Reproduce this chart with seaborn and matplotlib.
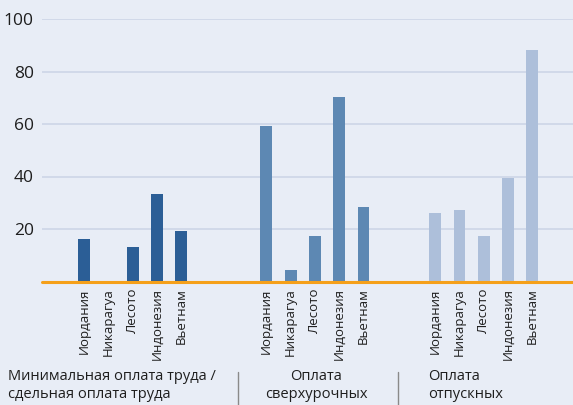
import numpy as np
import pandas as pd
import matplotlib
matplotlib.use("Agg")
import matplotlib.pyplot as plt
import seaborn as sns

countries = ["Иордания", "Никарагуа", "Лесото", "Индонезия", "Вьетнам"]
groups = ["Минимальная оплата труда /\nсдельная оплата труда",
          "Оплата\nсверхурочных",
          "Оплата\nотпускных"]
min_wage = [16.2, 0.0, 13.1, 33.3, 19.2]
overtime = [59.2, 4.4, 17.3, 70.3, 28.4]
leave = [26.1, 27.2, 17.3, 39.4, 88.2]
yticks = [20, 40, 60, 80, 100]

colors = ["#2B5E96", "#5D88B3", "#ADBFDA"]
bg = "#E8EDF6"

sns.set_theme(style="white")
plt.rcParams["font.family"] = ["Open Sans", "DejaVu Sans"]

group_start = [0.0, 7.5, 14.45]
rows = []
for g, vals, start in zip(groups, [min_wage, overtime, leave], group_start):
    for i, (c, v) in enumerate(zip(countries, vals)):
        rows.append({"pos": round(start + i, 2), "value": v, "group": g, "country": c})
df = pd.DataFrame(rows)

fig = plt.figure(figsize=(5.73, 4.05), dpi=100, facecolor=bg)
ax = fig.add_axes([42 / 573, 1 - 281.5 / 405, 1 - 42 / 573, (281.5 - 19) / 405])
ax.set_facecolor(bg)

for y in yticks:
    ax.axhline(y, color="#CDD5E7", lw=1.2, zorder=0)

sns.barplot(data=df, x="pos", y="value", hue="group", palette=colors,
            native_scale=True, dodge=False, width=0.49, legend=False,
            saturation=1, linewidth=0, edgecolor="none", ax=ax, zorder=2)

ax.axhline(0, color="#F5A01A", lw=2.2, zorder=3, clip_on=False)

ax.set_xlim(-1.73, 20.12)
ax.set_ylim(0, 100)
ax.set_yticks(yticks)
ax.set_yticklabels([str(t) for t in yticks], fontsize=12.5, color="#1E1E1E")
ax.set_xticks(df["pos"].tolist())
ax.set_xticklabels(df["country"].tolist(), rotation=90, fontsize=9.5,
                   color="#1E1E1E", va="top")
ax.tick_params(axis="both", length=0)
ax.tick_params(axis="x", pad=5)
ax.tick_params(axis="y", pad=6)
ax.set_xlabel("")
ax.set_ylabel("")
for s in ax.spines.values():
    s.set_visible(False)

# group labels
fig.text(8 / 573, 1 - 369 / 405, groups[0], ha="left", va="top",
         fontsize=10.5, color="#1E1E1E", linespacing=1.3)
fig.text(316 / 573, 1 - 369 / 405, groups[1], ha="center", va="top",
         fontsize=10.5, color="#1E1E1E", linespacing=1.3, multialignment="center")
fig.text(428 / 573, 1 - 369 / 405, groups[2], ha="left", va="top",
         fontsize=10.5, color="#1E1E1E", linespacing=1.3)
for xp in [238, 398]:
    fig.add_artist(plt.Line2D([xp / 573, xp / 573], [1 - 372 / 405, 0],
                              color="#8A8A8A", lw=1.0))

fig.savefig("out.png", dpi=100, facecolor=bg)
